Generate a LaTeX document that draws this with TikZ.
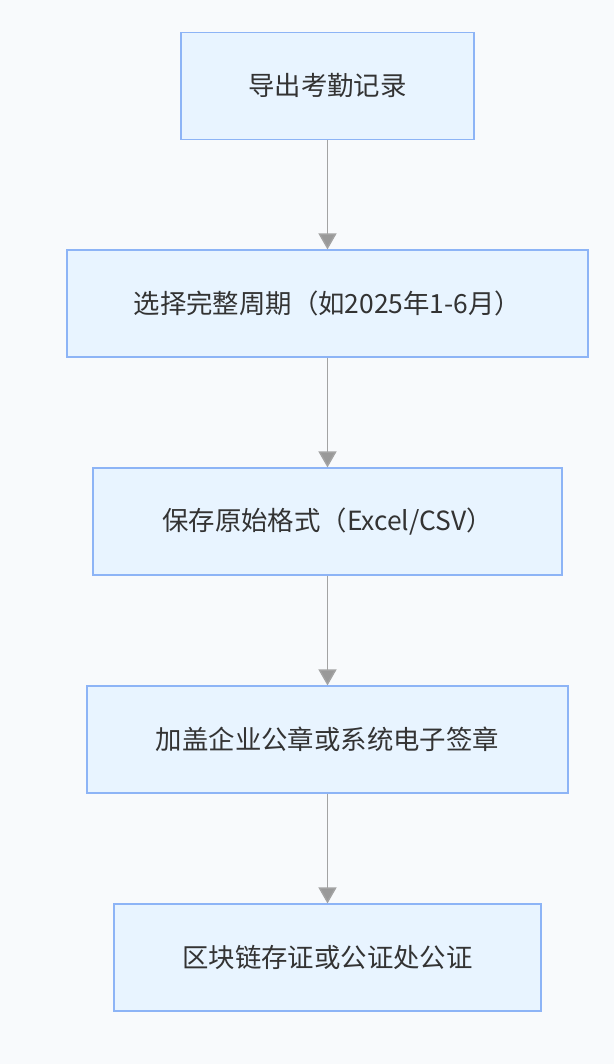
\documentclass[tikz,border=0pt]{standalone}
\usepackage{fontspec}
\newfontfamily\cjk{Noto Sans CJK SC}
\usetikzlibrary{arrows.meta}
\definecolor{pagebg}{HTML}{F8FAFC}
\definecolor{boxfill}{HTML}{E8F4FF}
\definecolor{boxline}{HTML}{8DB4F6}
\definecolor{arrowline}{HTML}{A3A3A3}
\definecolor{arrowfill}{HTML}{999999}
\definecolor{labeltext}{HTML}{333333}
\tikzset{
  stepbox/.style={draw=boxline, fill=boxfill, line width=1.1pt,
    minimum height=80pt, inner sep=0pt, text=labeltext,
    font=\cjk\fontsize{19.8pt}{23pt}\selectfont},
  flowarrow/.style={draw=arrowline, line width=1.1pt,
    -{Triangle[length=12pt,width=13.5pt,fill=arrowfill]}}
}
\begin{document}
\begin{tikzpicture}[x=0.75pt,y=-0.75pt]
  \fill[pagebg] (0,0) rectangle (614,1064);
  \useasboundingbox (0,0) rectangle (614,1064);
  %
  \node[stepbox, minimum width=219.75pt] (export) at (327.5,86) {导出考勤记录};
  \node[stepbox, minimum width=390.75pt] (period) at (327.5,303.5) {选择完整周期（如2025年1-6月）};
  \node[stepbox, minimum width=351.75pt] (format) at (327.5,521.5) {保存原始格式（Excel/CSV）};
  \node[stepbox, minimum width=360.75pt] (seal) at (327.5,739.5) {加盖企业公章或系统电子签章};
  \node[stepbox, minimum width=320.25pt] (notary) at (327.5,957.5) {区块链存证或公证处公证};
  %
  \draw[flowarrow] (export) -- (period);
  \draw[flowarrow] (period) -- (format);
  \draw[flowarrow] (format) -- (seal);
  \draw[flowarrow] (seal) -- (notary);
  %
\end{tikzpicture}
\end{document}
